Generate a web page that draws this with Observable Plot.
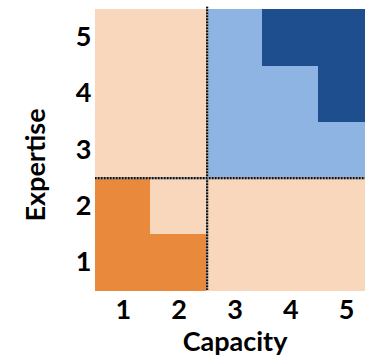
<!DOCTYPE html>
<html>
<head>
<meta charset="utf-8">
<script src="https://cdn.jsdelivr.net/npm/d3@7"></script>
<script src="https://cdn.jsdelivr.net/npm/@observablehq/plot@0.6"></script>
<style>
  html, body { margin: 0; padding: 0; background: #fff; overflow: hidden; }
  svg { display: block; }
</style>
</head>
<body>
<div id="chart"></div>
<script>
// Axis categories
const capacity = [1, 2, 3, 4, 5];
const expertise = [1, 2, 3, 4, 5];
// Zone of each cell, rows listed from expertise 1 (bottom) to 5 (top), columns capacity 1..5
const zonesExpertise1 = ["orange", "orange", "peach", "peach", "peach"];
const zonesExpertise2 = ["orange", "peach", "peach", "peach", "peach"];
const zonesExpertise3 = ["peach", "peach", "lightblue", "lightblue", "lightblue"];
const zonesExpertise4 = ["peach", "peach", "lightblue", "lightblue", "darkblue"];
const zonesExpertise5 = ["peach", "peach", "lightblue", "darkblue", "darkblue"];
const zoneNames = ["peach", "orange", "lightblue", "darkblue"];
const zoneColors = ["#F8D7BC", "#E8893C", "#8EB4E3", "#1F4E8F"];
// Divider positions between quadrants
const capacitySplit = [2.5];
const expertiseSplit = [2.5];
const xLabel = "Capacity";
const yLabel = "Expertise";

const rows = [zonesExpertise1, zonesExpertise2, zonesExpertise3, zonesExpertise4, zonesExpertise5];
const cells = [];
expertise.forEach((e, i) => capacity.forEach((c, j) => cells.push({capacity: c, expertise: e, zone: rows[i][j]})));

const font = "Lato, 'Open Sans', sans-serif";
const fmt = d3.format("d");
const chart = Plot.plot({
  width: 365,
  height: 358,
  marginLeft: 95,
  marginRight: -9,
  marginTop: 9,
  marginBottom: 68,
  style: {fontFamily: font, fontWeight: "bold", fontSize: "27px", color: "#000", background: "#fff", overflow: "hidden"},
  x: {domain: [0.5, 5.5]},
  y: {domain: [0.5, 5.5]},
  color: {domain: zoneNames, range: zoneColors},
  marks: [
    Plot.rect(cells, {x1: d => d.capacity - 0.5, x2: d => d.capacity + 0.5, y1: d => d.expertise - 0.5, y2: d => d.expertise + 0.5, fill: "zone", stroke: "zone", strokeWidth: 1, shapeRendering: "crispEdges", inset: 0}),
    Plot.ruleX(capacitySplit, {stroke: "#8a8a8a", strokeWidth: 2.2, y1: 0.5, y2: 5.54}),
    Plot.ruleX(capacitySplit, {stroke: "#111", strokeWidth: 2.2, strokeDasharray: "1.5,1.5", y1: 0.5, y2: 5.54}),
    Plot.ruleY(expertiseSplit, {stroke: "#8a8a8a", strokeWidth: 2.2}),
    Plot.ruleY(expertiseSplit, {stroke: "#111", strokeWidth: 2.2, strokeDasharray: "1.5,1.5"}),
    Plot.axisX({ticks: capacity, tickFormat: fmt, tickSize: 0, tickPadding: 9, label: null, fontSize: 27, fontWeight: "bold"}),
    Plot.axisY({ticks: expertise, tickFormat: fmt, tickSize: 0, tickPadding: 4, label: null, fontSize: 27, fontWeight: "bold"}),
    Plot.text([xLabel], {frameAnchor: "bottom", dy: 52, lineAnchor: "middle", textAnchor: "middle", text: d => d, fontSize: 27, fontWeight: "bold", fill: "#000"}),
    Plot.text([yLabel], {frameAnchor: "left", dx: -59, dy: 15, rotate: -90, textAnchor: "middle", lineAnchor: "middle", text: d => d, fontSize: 27, fontWeight: "bold", fill: "#000"})
  ]
});
document.getElementById("chart").appendChild(chart);
</script>
</body>
</html>
